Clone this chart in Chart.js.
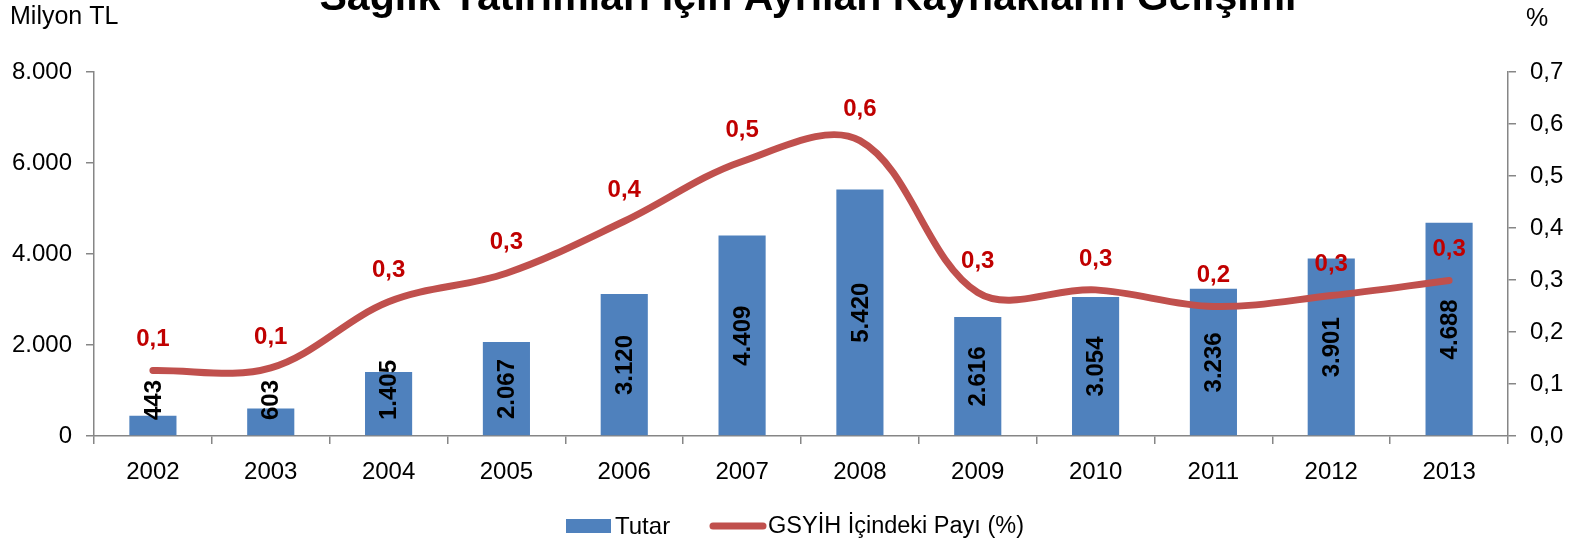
<!DOCTYPE html>
<html>
<head>
<meta charset="utf-8">
<script src="https://cdn.jsdelivr.net/npm/chart.js@4.4.1/dist/chart.umd.min.js"></script>
<style>
  html, body { margin: 0; padding: 0; background: #fff; }
  #wrap { width: 1579px; height: 543px; }
</style>
</head>
<body>
<div id="wrap"><canvas id="chart" width="1579" height="543"></canvas></div>
<script>
// data
const years = ['2002', '2003', '2004', '2005', '2006', '2007', '2008', '2009', '2010', '2011', '2012', '2013'];
const tutar = [443, 603, 1405, 2067, 3120, 4409, 5420, 2616, 3054, 3236, 3901, 4688];
const gsyihPayi = [0.126, 0.131, 0.258, 0.313, 0.413, 0.528, 0.568, 0.276, 0.281, 0.249, 0.27, 0.299];
const leftTicks = [0, 2000, 4000, 6000, 8000];
const rightTicks = [0, 0.1, 0.2, 0.3, 0.4, 0.5, 0.6, 0.7];

const FONT = "'Liberation Sans', Arial, sans-serif";
const BLUE = '#4F81BD';
const RED = '#C0504D';
const AXIS = '#868686';

Chart.defaults.font.family = FONT;
Chart.defaults.color = '#000';

const fmtThousands = v => String(Math.round(v)).replace(/\B(?=(\d{3})+(?!\d))/g, '.');
const fmtComma = v => v.toFixed(1).replace('.', ',');

// title, axis captions, value labels and legend
const decorations = {
    id: 'decorations',
    afterDatasetsDraw(chart) {
        const ctx = chart.ctx;
        ctx.save();

        // bar value labels, rotated
        const barMeta = chart.getDatasetMeta(0);
        const base = chart.scales.y.getPixelForValue(0);
        ctx.font = 'bold 24px ' + FONT;
        ctx.fillStyle = '#000';
        ctx.textAlign = 'center';
        ctx.textBaseline = 'middle';
        barMeta.data.forEach((bar, i) => {
            const txt = fmtThousands(tutar[i]);
            const w = ctx.measureText(txt).width;
            let cy = (bar.y + base) / 2;
            cy = Math.min(cy, base - 16 - w / 2);
            ctx.save();
            ctx.translate(bar.x, cy);
            ctx.rotate(-Math.PI / 2);
            ctx.fillText(txt, 0, 1);
            ctx.restore();
        });

        // line value labels
        const lineMeta = chart.getDatasetMeta(1);
        ctx.fillStyle = '#C00000';
        lineMeta.data.forEach((pt, i) => {
            ctx.fillText(fmtComma(gsyihPayi[i]), pt.x, pt.y - 31);
        });

        // title, partly above the canvas
        const title = 'Sağlık Yatırımları İçin Ayrılan Kaynakların Gelişimi';
        ctx.font = 'bold 40px ' + FONT;
        const tw = ctx.measureText(title).width;
        ctx.save();
        ctx.translate(808, 10);
        ctx.scale(977 / tw, 1);
        ctx.textBaseline = 'alphabetic';
        ctx.fillStyle = '#000';
        ctx.fillText(title, 0, 0);
        ctx.restore();

        // axis captions
        ctx.font = '25px ' + FONT;
        ctx.fillStyle = '#000';
        ctx.textAlign = 'left';
        ctx.fillText('Milyon TL', 10, 17);
        ctx.fillText('%', 1526, 19);

        // legend
        const ly = 526;
        ctx.fillStyle = BLUE;
        ctx.fillRect(566, ly - 7, 45, 14);
        ctx.fillStyle = '#000';
        ctx.font = '24px ' + FONT;
        ctx.fillText('Tutar', 615, ly + 1);
        ctx.strokeStyle = RED;
        ctx.lineWidth = 7;
        ctx.lineCap = 'round';
        ctx.beginPath();
        ctx.moveTo(713, ly);
        ctx.lineTo(763, ly);
        ctx.stroke();
        ctx.font = '23.5px ' + FONT;
        ctx.fillText('GSYİH İçindeki Payı (%)', 768, ly + 1);

        ctx.restore();
    }
};

new Chart(document.getElementById('chart'), {
    type: 'bar',
    data: {
        labels: years,
        datasets: [{
            type: 'bar',
            label: 'Tutar',
            data: tutar,
            backgroundColor: BLUE,
            borderWidth: 0,
            yAxisID: 'y',
            barPercentage: 0.4,
            categoryPercentage: 1,
            order: 2
        }, {
            type: 'line',
            label: 'GSYİH İçindeki Payı (%)',
            data: gsyihPayi,
            borderColor: RED,
            backgroundColor: RED,
            borderWidth: 7,
            borderCapStyle: 'round',
            pointRadius: 0,
            tension: 0.35,
            yAxisID: 'y2',
            order: 1
        }]
    },
    options: {
        responsive: false,
        animation: false,
        events: [],
        layout: { padding: { top: 72, left: 0, right: 0, bottom: 0 } },
        plugins: {
            legend: { display: false },
            tooltip: { enabled: false },
            title: { display: false }
        },
        scales: {
            x: {
                offset: true,
                grid: { display: true, drawOnChartArea: false, drawTicks: true, tickLength: 8, color: AXIS, lineWidth: 1.5, offset: true },
                border: { color: AXIS, width: 1.5 },
                ticks: { font: { size: 24 }, padding: 14, maxRotation: 0, autoSkip: false },
                afterFit(scale) { scale.height = 107; }
            },
            y: {
                position: 'left',
                min: 0,
                max: 8000,
                afterBuildTicks(scale) { scale.ticks = leftTicks.map(v => ({ value: v })); },
                grid: { drawOnChartArea: false, drawTicks: true, tickLength: 8, color: AXIS, lineWidth: 1.5 },
                border: { color: AXIS, width: 1.5 },
                ticks: { font: { size: 24 }, padding: 14, callback: v => fmtThousands(v) },
                afterFit(scale) { scale.width = 94; }
            },
            y2: {
                position: 'right',
                min: 0,
                max: 0.7,
                afterBuildTicks(scale) { scale.ticks = rightTicks.map(v => ({ value: v })); },
                grid: { drawOnChartArea: false, drawTicks: true, tickLength: 8, color: AXIS, lineWidth: 1.5 },
                border: { color: AXIS, width: 1.5 },
                ticks: { font: { size: 24 }, padding: 14, callback: v => fmtComma(v) },
                afterFit(scale) { scale.width = 71; }
            }
        }
    },
    plugins: [decorations]
});
</script>
</body>
</html>
